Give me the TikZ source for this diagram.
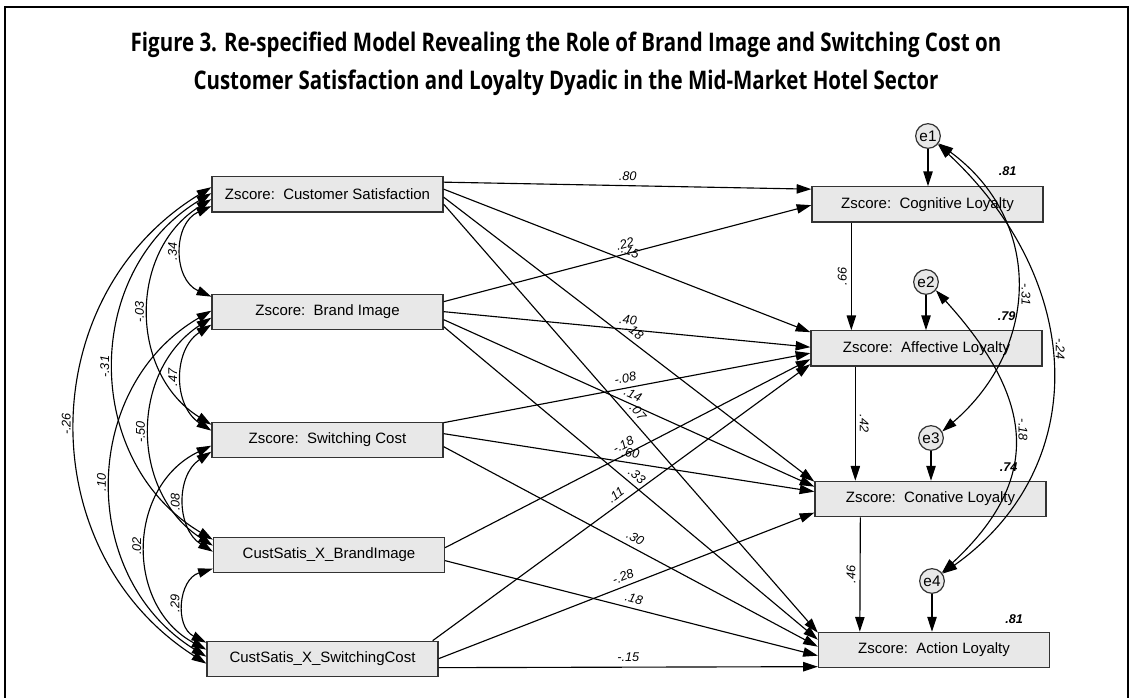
\documentclass[tikz,border=0pt]{standalone}
\usepackage{fontspec}
\setmainfont{Liberation Sans}
\newfontfamily\titlefont[FakeStretch=0.8]{Open Sans}
\usetikzlibrary{arrows.meta,calc}

\tikzset{
  varbox/.style={draw=black!80, line width=1pt, fill=black!9, minimum width=173.25pt,
    minimum height=26.5pt, inner sep=0pt, font=\fontsize{11.25}{13}\selectfont},
  errnode/.style={circle, draw=black!80, line width=0.9pt, fill=black!9, minimum size=18.5pt,
    inner sep=0pt, font=\fontsize{11.5}{13}\selectfont},
  coef/.style={font=\fontsize{9.5}{10}\selectfont\itshape, inner sep=1.5pt},
  rsq/.style={font=\fontsize{9.5}{10}\selectfont\bfseries\itshape, inner sep=0pt, anchor=south},
  regpath/.style={line width=0.85pt, -{Triangle[length=11pt,width=7pt]}},
  covpath/.style={line width=0.85pt, {Triangle[length=11pt,width=7pt]}-{Triangle[length=11pt,width=7pt]}},
  lcov/.style={coef, rotate=90, anchor=south, inner sep=3.5pt},
  rcov/.style={coef, rotate=-90, anchor=south, inner sep=3.5pt},
  heading/.style={font=\titlefont\bfseries\fontsize{19.2}{21}\selectfont, anchor=base, inner sep=0pt},
}

\begin{document}
\begin{tikzpicture}[x=0.75pt, y=-0.75pt]
\useasboundingbox (0,0) rectangle (1133,698);

% frame
\draw[line width=2pt] (5,710) -- (5,7) -- (1128,7) -- (1128,710);

% heading
\node[heading] (title1) at (566,52) {Figure 3. Re-specified Model Revealing the Role of Brand Image and Switching Cost on};
\node[heading] (title2) at (566,90) {Customer Satisfaction and Loyalty Dyadic in the Mid-Market Hotel Sector};

% exogenous variables
\node[varbox] (cs)  at (327.5,194.5) {Zscore:\ \ Customer Satisfaction};
\node[varbox] (bi)  at (327.5,312)   {Zscore:\ \ Brand Image};
\node[varbox] (sc)  at (327.5,440)   {Zscore:\ \ Switching Cost};
\node[varbox] (cbi) at (329,555)     {CustSatis\_X\_BrandImage};
\node[varbox] (csc) at (322.5,659)   {CustSatis\_X\_SwitchingCost};

% loyalty stages
\node[varbox] (cog) at (927.5,204.5) {Zscore:\ \ Cognitive Loyalty};
\node[varbox] (aff) at (926.5,348.5) {Zscore:\ \ Affective Loyalty};
\node[varbox] (con) at (930.5,499)   {Zscore:\ \ Conative Loyalty};
\node[varbox] (act) at (934,650)     {Zscore:\ \ Action Loyalty};

% residuals
\node[errnode] (e1) at (928,136) {e1};
\node[errnode] (e2) at (926,282) {e2};
\node[errnode] (e3) at (931,438) {e3};
\node[errnode] (e4) at (932,581) {e4};

% squared multiple correlations
\node[rsq] (r1) at ($(cog.north east)+(-36,-10)$) {.81};
\node[rsq] (r2) at ($(aff.north east)+(-36,-9)$)  {.79};
\node[rsq] (r3) at ($(con.north east)+(-38,-9)$)  {.74};
\node[rsq] (r4) at ($(act.north east)+(-36,-8)$)  {.81};

% covariances among exogenous variables
\draw[covpath] ($(cs.north west)+(0,30)$) to[bend right=66, looseness=1.2]
  node[lcov] {.34} ($(bi.north west)+(0,3)$);
\draw[covpath] ($(cs.north west)+(0,23)$) to[bend right=58, looseness=1.11]
  node[lcov] {-.03} ($(sc.north west)+(0,3)$);
\draw[covpath] ($(cs.north west)+(0,17)$) to[bend right=59, looseness=1.12]
  node[lcov] {-.31} ($(cbi.north west)+(0,3)$);
\draw[covpath] ($(cs.north west)+(0,11)$) to[bend right=58, looseness=1.12]
  node[lcov] {-.26} ($(csc.north west)+(0,23)$);
\draw[covpath] ($(bi.north west)+(0,31)$) to[bend right=57, looseness=1.11]
  node[lcov] {.47} ($(sc.north west)+(0,9)$);
\draw[covpath] ($(bi.north west)+(0,24)$) to[bend right=57, looseness=1.10]
  node[lcov] {-.50} ($(cbi.north west)+(0,9)$);
\draw[covpath] ($(bi.north west)+(0,17)$) to[bend right=59, looseness=1.12]
  node[lcov] {.10} ($(csc.north west)+(0,16)$);
\draw[covpath] ($(sc.north west)+(0,30)$) to[bend right=57, looseness=1.10]
  node[lcov] {.08} ($(cbi.north west)+(0,15)$);
\draw[covpath] ($(sc.north west)+(0,24)$) to[bend right=63, looseness=1.17]
  node[lcov] {.02} ($(csc.north west)+(0,9)$);
\draw[covpath] ($(cbi.north west)+(0,32)$) to[bend right=68, looseness=1.24]
  node[lcov] {.29} ($(csc.north west)+(0,2)$);

% structural paths
\draw[regpath] ($(cs.north east)+(0,6)$)  -- node[coef, sloped, above=2pt] {.80} ($(cog.north west)+(0,3)$);
\draw[regpath] ($(cs.north east)+(0,13)$) -- node[coef, sloped, above=2pt] {.15} ($(aff.north west)+(0,2)$);
\draw[regpath] ($(cs.north east)+(0,21)$) -- node[coef, sloped, above=2pt] {.18} ($(con.north west)+(0,1)$);
\draw[regpath] ($(cs.north east)+(0,28)$) -- node[coef, sloped, above=2pt] {.07} ($(act.north west)+(0,1)$);

\draw[regpath] ($(bi.north east)+(0,8)$)  -- node[coef, sloped, above=2pt] {.22} ($(cog.north west)+(0,19)$);
\draw[regpath] ($(bi.north east)+(0,18)$) -- node[coef, sloped, above=2pt] {.40} ($(aff.north west)+(0,17)$);
\draw[regpath] ($(bi.north east)+(0,26)$) -- node[coef, sloped, above=2pt] {.14} ($(con.north west)+(0,6)$);
\draw[regpath] ($(bi.north east)+(0,33)$) -- node[coef, sloped, above=2pt] {.33} ($(act.north west)+(0,8)$);

\draw[regpath] ($(sc.north east)+(0,1)$)  -- node[coef, sloped, above=2pt] {-.08} ($(aff.north west)+(0,23)$);
\draw[regpath] ($(sc.north east)+(0,12)$) -- node[coef, sloped, above=2pt] {.60} ($(con.north west)+(0,11)$);
\draw[regpath] ($(sc.north east)+(0,25)$) -- node[coef, sloped, above=2pt] {.30} ($(act.north west)+(0,15)$);

\draw[regpath] ($(cbi.north east)+(0,11)$) -- node[coef, sloped, above=2pt] {-.18} ($(aff.north west)+(0,29)$);
\draw[regpath] ($(cbi.north east)+(0,24)$) -- node[coef, sloped, above=2pt] {.18} ($(act.north west)+(0,24)$);

\draw[regpath] ($(csc.north east)+(-6,0)$) -- node[coef, sloped, above=2pt] {.11} ($(aff.north west)+(0,34)$);
\draw[regpath] ($(csc.north east)+(0,18)$) -- node[coef, sloped, above=2pt] {-.28} ($(con.north west)+(0,32)$);
\draw[regpath] ($(csc.north east)+(0,27)$) -- node[coef, sloped, above=2pt] {-.15} ($(act.north west)+(0,35)$);

% loyalty chain
\draw[regpath] ($(cog.south west)+(40,0)$) -- node[coef, rotate=90, anchor=south, inner sep=3pt] {.66} ($(aff.north west)+(41,0)$);
\draw[regpath] ($(aff.south west)+(45,0)$) -- node[coef, rotate=-90, anchor=south, inner sep=3pt] {.42} ($(con.north west)+(41,0)$);
\draw[regpath] ($(con.south west)+(46,0)$) -- node[coef, rotate=90, anchor=south, inner sep=3pt] {.46} ($(act.north west)+(42,0)$);

% residual paths
\draw[regpath] (e1) -- (e1 |- cog.north);
\draw[regpath] (e2) -- (e2 |- aff.north);
\draw[regpath] (e3) -- (e3 |- con.north);
\draw[regpath] (e4) -- (e4 |- act.north);

% residual covariances
\draw[covpath] (e1.-35) .. controls +(105,77) and +(98,-84) .. (e3.30)
  node[rcov, pos=.53] {-.31};
\draw[covpath] (e1.-40) .. controls +(150,140) and +(148,-105) .. (e4.35)
  node[rcov, pos=.45] {-.24};
\draw[covpath] (e2.-40) .. controls +(100,110) and +(100,-93) .. (e4.40)
  node[rcov, pos=.47] {-.18};
\end{tikzpicture}
\end{document}
